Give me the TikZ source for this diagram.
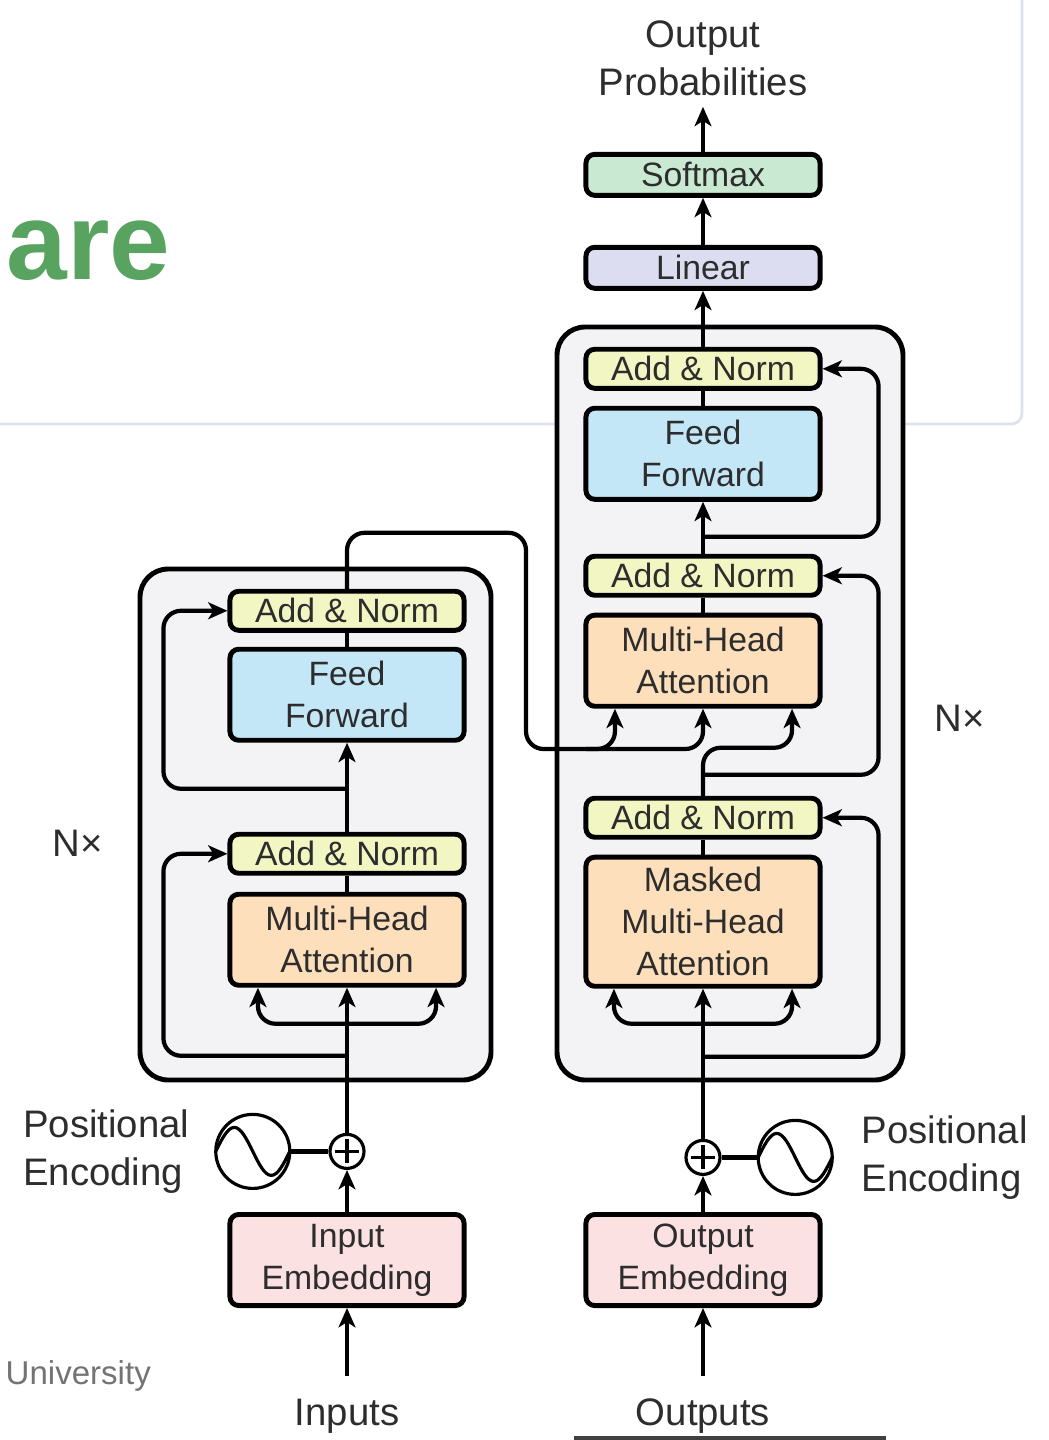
\documentclass[tikz,border=0pt]{standalone}
\usepackage{fontspec}
\setmainfont{Liberation Sans}
\usetikzlibrary{arrows.meta,positioning}

\definecolor{addnormfill}{RGB}{242,246,194}
\definecolor{ffwdfill}{RGB}{196,231,247}
\definecolor{attnfill}{RGB}{253,224,187}
\definecolor{embedfill}{RGB}{251,225,226}
\definecolor{softmaxfill}{RGB}{201,233,210}
\definecolor{linearfill}{RGB}{220,221,241}
\definecolor{stackfill}{RGB}{243,243,245}
\definecolor{cardline}{RGB}{222,226,236}
\definecolor{titlegreen}{RGB}{88,163,96}
\definecolor{textgray}{RGB}{45,45,45}

\begin{document}
\begin{tikzpicture}[
    x=0.01cm, y=-0.01cm,
    block/.style={rectangle, draw=black, line width=1.4pt, rounded corners=2.5pt, minimum width=2.34cm, align=center, inner sep=0pt, text=textgray, font=\fontsize{9.6}{12}\selectfont},
    addnorm/.style={block, fill=addnormfill, minimum height=0.39cm},
    ffwd/.style={block, fill=ffwdfill, minimum height=0.91cm},
    attn/.style={block, fill=attnfill, minimum height=0.91cm},
    embed/.style={block, fill=embedfill, minimum height=0.91cm},
    lbl/.style={inner sep=0pt, text=textgray, font=\fontsize{10.9}{13.7}\selectfont},
    arrow/.style={line width=1.2pt, -{Stealth[length=5.5pt, width=4.8pt, inset=1.5pt]}},
    wire/.style={line width=1.2pt},
    elbow/.style={rounded corners=5pt},
    stack/.style={draw=black, line width=1.4pt, fill=stackfill, rounded corners=8pt},
    plus/.style={circle, draw=black, line width=0.9pt, fill=white, minimum size=0.34cm, inner sep=0pt,
        path picture={\draw[line width=0.9pt]
            ([xshift=-0.12cm]path picture bounding box.center) -- ([xshift=0.12cm]path picture bounding box.center)
            ([yshift=-0.12cm]path picture bounding box.center) -- ([yshift=0.12cm]path picture bounding box.center);}},
    sine/.style={circle, draw=black, line width=0.9pt, fill=white, minimum size=0.74cm, inner sep=0pt,
        path picture={\draw[line width=0.9pt]
            ([xshift=-0.37cm]path picture bounding box.center) sin ++(18.5,-24) cos ++(18.5,24) sin ++(18.5,24) cos ++(18.5,-24);}}
]
\useasboundingbox (0,0) rectangle (1048,1440);

% Slide background
\draw[cardline, line width=0.8pt, fill=white, rounded corners=3pt] (-10,-10) rectangle (1022,424);
\node[anchor=base west, inner sep=0pt, text=titlegreen, font=\fontsize{31}{31}\selectfont\bfseries] (title) at (6,280) {are};
\node[anchor=west, inner sep=0pt, text=black!55, font=\fontsize{9.4}{11}\selectfont] (uni) at (5,1376) {University};
\draw[line width=0.9pt, black!75] (574,1438) -- (886,1438);

% Stacks
\draw[stack] (140,569) rectangle (491,1080);
\draw[stack] (557,327) rectangle (903,1080);

% Encoder
\node[embed] (inemb) at (347,1260) {Input\\Embedding};
\node[plus, above=0.42cm of inemb] (inplus) {};
\node[attn, above=1.45cm of inplus] (encmha) {Multi-Head\\Attention};
\node[addnorm, above=0.16cm of encmha] (encan1) {Add \& Norm};
\node[ffwd, above=0.89cm of encan1] (encff) {Feed\\Forward};
\node[addnorm, above=0.14cm of encff] (encan2) {Add \& Norm};
\node[sine, left=0.37cm of inplus] (lsine) {};
\node[lbl, align=left, left=0.24cm of lsine] (lposenc) {Positional\\Encoding};
\node[lbl] (inputs) at (347,1416) {Inputs};
\node[lbl] (encnx) at (78,843) {N×};

% Decoder
\node[embed] (outemb) at (703,1260) {Output\\Embedding};
\node[plus, above=0.36cm of outemb] (outplus) {};
\node[attn, minimum height=1.29cm, above=1.50cm of outplus] (decmmha) {Masked\\Multi-Head\\Attention};
\node[addnorm, above=0.15cm of decmmha] (decan1) {Add \& Norm};
\node[attn, above=0.87cm of decan1] (decmha) {Multi-Head\\Attention};
\node[addnorm, above=0.15cm of decmha] (decan2) {Add \& Norm};
\node[ffwd, above=0.52cm of decan2] (decff) {Feed\\Forward};
\node[addnorm, above=0.15cm of decff] (decan3) {Add \& Norm};
\node[block, fill=linearfill, minimum height=0.41cm, above=0.56cm of decan3] (linear) {Linear};
\node[block, fill=softmaxfill, minimum height=0.41cm, above=0.47cm of linear] (softmax) {Softmax};
\node[lbl, align=center, above=0.55cm of softmax] (outprob) {Output\\Probabilities};
\node[sine, right=0.35cm of outplus] (rsine) {};
\node[lbl, align=left, right=0.27cm of rsine] (rposenc) {Positional\\Encoding};
\node[lbl] (outputs) at (703,1416) {Outputs};
\node[lbl] (decnx) at (960,718) {N×};

% Encoder connectors
\draw[arrow, shorten <=0.22cm] (inputs) -- (inemb);
\draw[arrow] (inemb) -- (inplus);
\draw[wire, line width=1.6pt] (lsine) -- (inplus);
\draw[arrow] (inplus) -- (encmha);
\coordinate (encfork) at ([yshift=-0.36cm]encmha.south);
\draw[arrow, elbow] (encfork) -| ([xshift=-0.89cm]encmha.south);
\draw[arrow, elbow] (encfork) -| ([xshift=0.89cm]encmha.south);
\coordinate (encres1) at ([yshift=-0.68cm]encmha.south);
\draw[arrow, elbow] (encres1) -| ([xshift=-0.64cm]encan1.west) -- (encan1.west);
\draw[wire] (encmha) -- (encan1);
\draw[arrow] (encan1) -- (encff);
\coordinate (encres2) at ([yshift=-0.46cm]encff.south);
\draw[arrow, elbow] (encres2) -| ([xshift=-0.64cm]encan2.west) -- (encan2.west);
\draw[wire] (encff) -- (encan2);

% Encoder output into decoder
\coordinate (encout) at ([yshift=0.56cm]encan2.north);
\coordinate (bridge) at (526,749);
\draw[arrow, elbow] (encan2.north) -- (encout) -| (bridge) -| ([xshift=-0.88cm]decmha.south);
\draw[arrow, elbow] ([xshift=0.6cm]bridge) -| (decmha.south);

% Decoder connectors
\draw[arrow, shorten <=0.22cm] (outputs) -- (outemb);
\draw[arrow] (outemb) -- (outplus);
\draw[wire, line width=1.6pt] (rsine) -- (outplus);
\draw[arrow] (outplus) -- (decmmha);
\coordinate (decfork) at ([yshift=-0.35cm]decmmha.south);
\draw[arrow, elbow] (decfork) -| ([xshift=-0.89cm]decmmha.south);
\draw[arrow, elbow] (decfork) -| ([xshift=0.89cm]decmmha.south);
\coordinate (decres1) at ([yshift=-0.68cm]decmmha.south);
\draw[arrow, elbow] (decres1) -| ([xshift=0.56cm]decan1.east) -- (decan1.east);
\draw[wire] (decmmha) -- (decan1);
\coordinate (decsplit) at ([yshift=0.48cm]decan1.north);
\draw[arrow, elbow] (decan1.north) -- (decsplit) -| ([xshift=0.89cm]decmha.south);
\coordinate (decres2) at ([yshift=0.21cm]decan1.north);
\draw[arrow, elbow] (decres2) -| ([xshift=0.56cm]decan2.east) -- (decan2.east);
\draw[wire] (decmha) -- (decan2);
\draw[arrow] (decan2) -- (decff);
\coordinate (decres3) at ([yshift=0.17cm]decan2.north);
\draw[arrow, elbow] (decres3) -| ([xshift=0.56cm]decan3.east) -- (decan3.east);
\draw[wire] (decff) -- (decan3);
\draw[arrow] (decan3) -- (linear);
\draw[arrow] (linear) -- (softmax);
\draw[arrow, shorten >=0.1cm] (softmax) -- (outprob);

\end{tikzpicture}
\end{document}
